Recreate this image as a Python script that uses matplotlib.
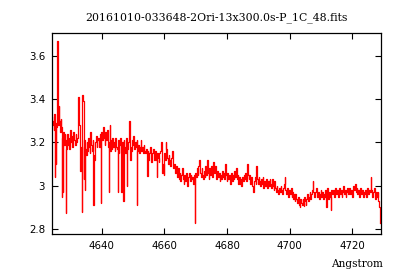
import numpy as np
import matplotlib
matplotlib.use("Agg")
import matplotlib.pyplot as plt

title = "20161010-033648-2Ori-13x300.0s-P_1C_48.fits"
xlabel = "Angstrom"

wl_start = 4624.0
wl_step = 0.25
flux_base = [
    3.32, 3.28, 3.30, 3.26, 3.33, 3.29, 3.27, 3.31, 3.34, 3.28, 3.30, 3.25, 3.31, 3.27, 3.22, 3.25, 3.19, 3.24, 3.21, 3.17,
    3.24, 3.19, 3.22, 3.17, 3.26, 3.20, 3.23, 3.18, 3.25, 3.21, 3.19, 3.24, 3.20, 3.22, 3.41, 3.33, 3.28, 3.07, 3.18, 3.42,
    3.40, 3.39, 3.21, 3.17, 3.14, 3.20, 3.16, 3.22, 3.18, 3.15, 3.25, 3.19, 3.16, 3.21, 3.14, 3.12, 3.20, 3.23, 3.18, 3.21,
    3.22, 3.18, 3.24, 3.20, 3.25, 3.21, 3.27, 3.22, 3.19, 3.25, 3.21, 3.26, 3.23, 3.18, 3.20, 3.16, 3.21, 3.17, 3.22, 3.18,
    3.20, 3.16, 3.22, 3.18, 3.17, 3.21, 3.15, 3.19, 3.22, 3.17, 3.20, 3.16, 3.21, 3.18, 3.15, 3.19, 3.22, 3.17, 3.20, 3.21,
    3.22, 3.18, 3.16, 3.21, 3.19, 3.23, 3.17, 3.20, 3.18, 3.21, 3.16, 3.19, 3.15, 3.18, 3.21, 3.16, 3.18, 3.15, 3.19, 3.16,
    3.15, 3.17, 3.13, 3.16, 3.12, 3.15, 3.18, 3.13, 3.11, 3.15, 3.17, 3.12, 3.14, 3.16, 3.12, 3.15, 3.13, 3.11, 3.15, 3.16,
    3.20, 3.14, 3.06, 3.10, 3.15, 3.12, 3.20, 3.17, 3.13, 3.10, 3.14, 3.12, 3.09, 3.13, 3.16, 3.11, 3.08, 3.10, 3.06, 3.09,
    3.07, 3.04, 3.08, 3.03, 3.06, 3.02, 3.05, 3.08, 3.03, 3.01, 3.05, 3.02, 3.06, 3.03, 3.00, 3.04, 3.06, 3.02, 3.05, 3.03,
    3.04, 3.01, 3.05, 3.03, 3.06, 3.04, 3.08, 3.05, 3.09, 3.12, 3.06, 3.04, 3.08, 3.05, 3.03, 3.07, 3.04, 3.09, 3.05, 3.12,
    3.06, 3.03, 3.08, 3.05, 3.09, 3.04, 3.07, 3.11, 3.06, 3.09, 3.05, 3.03, 3.07, 3.04, 3.06, 3.02, 3.05, 3.03, 3.07, 3.04,
    3.06, 3.03, 3.10, 3.05, 3.02, 3.06, 3.03, 3.05, 3.01, 3.04, 3.06, 3.02, 3.05, 3.03, 3.07, 3.04, 3.08, 3.03, 3.05, 3.01,
    3.04, 3.01, 3.03, 3.00, 3.04, 3.02, 3.05, 3.03, 3.06, 3.02, 3.10, 3.05, 3.03, 3.05, 3.01, 3.04, 3.02, 3.00, 2.97, 3.02,
    3.04, 3.01, 3.09, 3.03, 3.01, 3.04, 3.02, 3.00, 3.03, 3.01, 3.04, 2.99, 3.02, 3.00, 3.03, 3.01, 2.99, 3.02, 3.00, 3.03,
    3.01, 2.99, 3.03, 3.00, 2.98, 3.02, 2.99, 2.97, 3.00, 2.98, 2.96, 2.99, 2.97, 3.00, 2.98, 2.96, 2.99, 3.01, 3.04, 2.98,
    2.96, 2.99, 2.97, 2.95, 2.98, 2.96, 2.99, 2.95, 2.97, 2.94, 2.96, 2.93, 2.96, 2.94, 2.92, 2.95, 2.93, 2.91, 2.94, 2.92,
    2.91, 2.94, 2.92, 2.95, 2.93, 2.91, 2.94, 2.96, 2.93, 2.95, 2.97, 2.94, 2.96, 2.98, 3.02, 2.97, 2.95, 2.97, 2.99, 2.96,
    2.95, 2.97, 2.94, 2.96, 2.98, 2.95, 2.97, 2.94, 2.96, 2.95, 2.98, 2.95, 2.99, 2.96, 2.94, 2.97, 2.95, 2.97, 2.98, 2.96,
    2.98, 2.95, 2.97, 2.99, 2.96, 2.98, 2.95, 2.97, 2.99, 2.96, 2.98, 2.95, 2.97, 3.00, 2.96, 2.98, 2.95, 2.97, 2.99, 2.96,
    2.97, 2.99, 2.96, 2.98, 2.95, 2.97, 3.00, 2.98, 3.01, 2.97, 2.99, 2.96, 2.98, 2.95, 2.97, 2.99, 2.96, 2.98, 2.95, 2.97,
    2.96, 2.98, 2.95, 2.97, 2.99, 2.96, 2.98, 2.97, 3.04, 2.98, 2.95, 2.97, 2.99, 2.96, 2.94, 2.97, 2.95, 2.97, 2.93, 2.90,
    2.83,
]

# Narrow spikes (wavelength, flux)
spike_wl = [4625.05, 4625.4, 4625.8, 4626.3, 4627.4, 4627.7, 4628.7,
            4633.6, 4634.4, 4634.7, 4637.3, 4639.7,
            4642.3, 4642.7, 4645.2, 4646.35, 4646.9, 4648.1, 4648.8, 4649.2,
            4651.3, 4654.6, 4657.7, 4659.8, 4669.8, 4703.3, 4704.7, 4711.8,
            4713.2, 4728.8]
spike_flux = [3.04, 3.10, 3.67, 3.37, 2.95, 2.97, 2.875,
              2.88, 3.03, 2.98, 2.91, 2.92,
              2.97, 3.28, 2.97, 2.97, 2.93, 3.00, 3.30, 3.12,
              2.91, 3.045, 3.04, 3.05, 2.83, 2.90, 2.905, 2.90,
              2.89, 2.86]

xticks = [4640, 4660, 4680, 4700, 4720]
yticks = [2.8, 3.0, 3.2, 3.4, 3.6]
ytick_labels = ["2.8", "3", "3.2", "3.4", "3.6"]

wl_base = wl_start + wl_step * np.arange(len(flux_base))
wl = np.concatenate([wl_base, spike_wl])
fl = np.concatenate([flux_base, spike_flux])
order = np.argsort(wl)
wl, fl = wl[order], fl[order]

fig = plt.figure(figsize=(4.0, 2.8), dpi=100)
ax = fig.add_axes([0.13, 0.1643, 0.8225, 0.7177])
ax.plot(wl, fl, color="#ff0000", lw=0.9, drawstyle="steps-mid")
ax.set_xlim(4624.1, 4729.2)
ax.set_ylim(2.777, 3.706)
ax.set_xticks(xticks)
ax.set_xticklabels([str(t) for t in xticks])
ax.set_yticks(yticks)
ax.set_yticklabels(ytick_labels)
ax.tick_params(direction="in", length=4, width=0.8, top=True, right=True,
               labelsize=7.4, pad=5)
for lab in ax.get_xticklabels() + ax.get_yticklabels():
    lab.set_family("DejaVu Sans")
for s in ax.spines.values():
    s.set_linewidth(0.9)
ax.set_title(title, fontsize=7.8, family="DejaVu Serif", pad=9)
fig.text(0.9575, 0.045, xlabel, ha="right", va="baseline", fontsize=7.6,
         family="DejaVu Serif")
fig.savefig("out.png", dpi=100)
